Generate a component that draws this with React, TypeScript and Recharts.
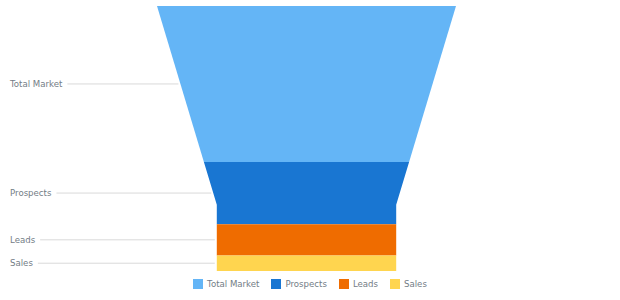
import React, { useLayoutEffect, useRef, useState } from 'react';
import { BarChart, Bar, XAxis, YAxis, Legend } from 'recharts';

const categories = ['Total Market', 'Prospects', 'Leads', 'Sales'];
const values = [50, 20, 10, 5];
const colors = ['#64b5f6', '#1976d2', '#ef6c00', '#ffd54f'];

const NECK_HEIGHT = 0.25; // share of funnel height taken by the neck
const NECK_WIDTH = 0.6; // neck width relative to the top width
const FONT = '"DejaVu Sans", Verdana, sans-serif';
const FONT_SIZE = 8.6;
const TEXT_COLOR = '#737d86';
const LINE_COLOR = '#d9d9d9';
const LABEL_X = 10;

const total = values.reduce((a, b) => a + b, 0);
const row: Record<string, any> = { name: 'funnel' };
categories.forEach((c, i) => {
  row[c] = values[i];
});
const data = [row];

function LeaderLabel({ text, y, edge }: { text: string; y: number; edge: number }) {
  const ref = useRef<SVGTextElement>(null);
  const [w, setW] = useState(0);
  useLayoutEffect(() => {
    if (ref.current) setW(ref.current.getComputedTextLength());
  }, [text]);
  return (
    <g>
      <text
        ref={ref}
        x={LABEL_X}
        y={y}
        dy="0.35em"
        fontFamily={FONT}
        fontSize={FONT_SIZE}
        fill={TEXT_COLOR}
      >
        {text}
      </text>
      {w > 0 && (
        <line x1={LABEL_X + w + 5} y1={y} x2={edge - 2} y2={y} stroke={LINE_COLOR} strokeWidth={1} />
      )}
    </g>
  );
}

function makeShape(i: number) {
  return (props: any) => {
    let { x, y, width, height } = props;
    if (height == null || width == null || !height) return <g />;
    if (height < 0) {
      y = y + height;
      height = -height;
    }
    if (width < 0) {
      x = x + width;
      width = -width;
    }
    const start = values.slice(0, i).reduce((a, b) => a + b, 0);
    const px = height / values[i];
    const top = y - start * px;
    const H = total * px;
    const cx = x + width / 2;
    const neckY = top + (1 - NECK_HEIGHT) * H;
    const halfTop = width / 2;
    const halfNeck = (width * NECK_WIDTH) / 2;
    const half = (yy: number) =>
      yy >= neckY ? halfNeck : halfTop - (halfTop - halfNeck) * ((yy - top) / (neckY - top));
    const y1 = y;
    const y2 = y + height;
    const ys = [y1];
    if (neckY > y1 && neckY < y2) ys.push(neckY);
    ys.push(y2);
    const left = ys.map((yy) => `${cx - half(yy)},${yy}`);
    const right = ys
      .slice()
      .reverse()
      .map((yy) => `${cx + half(yy)},${yy}`);
    const mid = (y1 + y2) / 2;
    return (
      <g>
        <polygon points={[...left, ...right].join(' ')} fill={colors[i]} />
        <LeaderLabel text={categories[i]} y={mid} edge={cx - half(mid)} />
      </g>
    );
  };
}

function LegendContent() {
  return (
    <div
      style={{
        display: 'flex',
        justifyContent: 'center',
        alignItems: 'center',
        fontFamily: FONT,
        fontSize: FONT_SIZE,
        color: TEXT_COLOR,
        lineHeight: '12px',
      }}
    >
      {categories.map((c, i) => (
        <div key={c} style={{ display: 'flex', alignItems: 'center', marginRight: i < categories.length - 1 ? 12 : 0 }}>
          <span style={{ display: 'inline-block', width: 10, height: 10, background: colors[i], marginRight: 4 }} />
          <span>{c}</span>
        </div>
      ))}
    </div>
  );
}

export default function App() {
  return (
    <div style={{ position: 'absolute', left: 0, top: 0, width: 620, height: 300, background: '#fff' }}>
      <BarChart
        width={620}
        height={300}
        data={data}
        margin={{ top: 6, right: 164, bottom: 29, left: 157 }}
        barCategoryGap={0}
      >
        <XAxis dataKey="name" type="category" hide />
        <YAxis type="number" domain={[0, total]} reversed hide />
        <Legend
          verticalAlign="middle"
          layout="horizontal"
          content={<LegendContent />}
          wrapperStyle={{ top: 278, left: 0, width: 620 }}
        />
        {categories.map((c, i) => (
          <Bar
            key={c}
            dataKey={c}
            stackId="funnel"
            fill={colors[i]}
            shape={makeShape(i)}
            isAnimationActive={false}
          />
        ))}
      </BarChart>
    </div>
  );
}
